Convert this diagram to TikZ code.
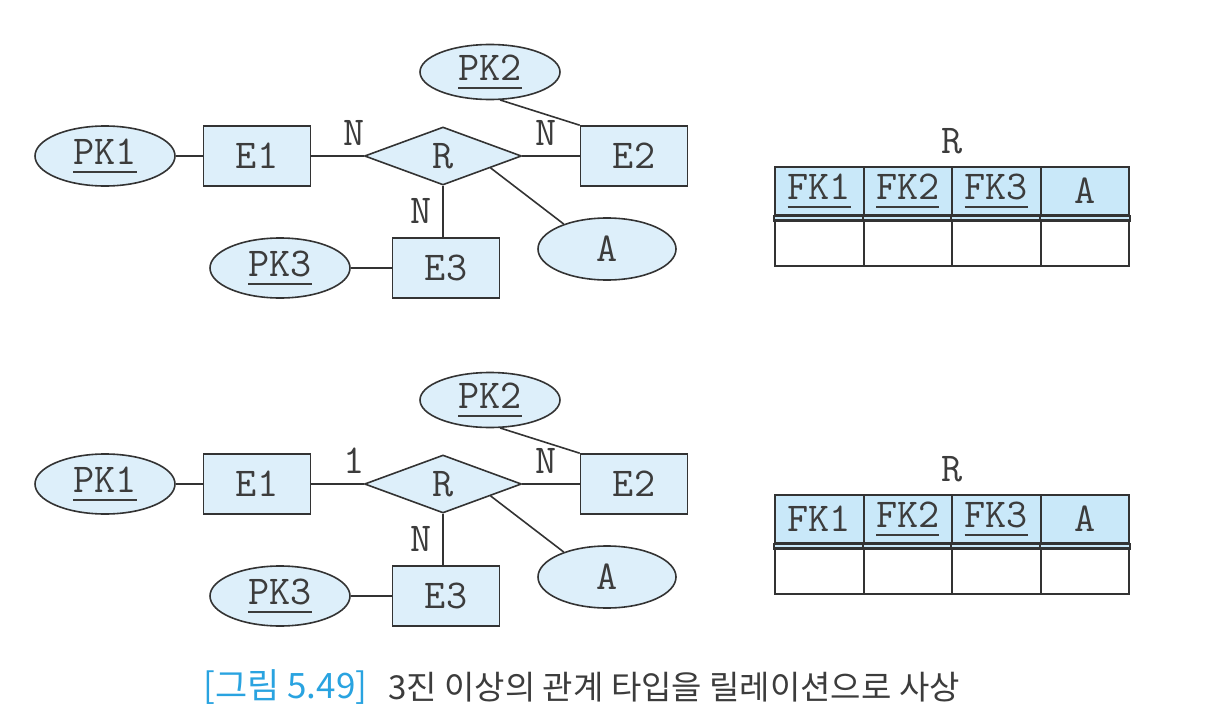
\documentclass[tikz,border=0pt]{standalone}
\usepackage{fontspec}
\usepackage{xcolor}
\usetikzlibrary{shapes.geometric,calc}
\newfontfamily\capfont{Noto Sans CJK KR}
\definecolor{erfill}{HTML}{DDEFFA}
\definecolor{keyblue}{HTML}{C9E8F9}
\definecolor{erline}{HTML}{333333}
\definecolor{ertext}{HTML}{3C3C3C}
\definecolor{capblue}{HTML}{29A3E0}
\newcommand\keyattr[1]{\setbox0\hbox{#1}\rlap{\rule[-4.5pt]{\wd0}{1pt}}\box0}
\tikzset{
  erfont/.style={font=\ttfamily\fontsize{20.5}{20.5}\selectfont,text=ertext},
  attr/.style={ellipse,draw=erline,fill=erfill,line width=0.8pt,minimum width=70pt,minimum height=30pt,inner sep=0pt,erfont},
  ent/.style={rectangle,draw=erline,fill=erfill,line width=0.8pt,minimum width=53.5pt,minimum height=30pt,inner sep=0pt,erfont},
  rel/.style={diamond,draw=erline,fill=erfill,line width=0.8pt,minimum width=78.5pt,minimum height=29pt,inner sep=0pt,erfont},
  card/.style={erfont,inner sep=0pt},
  link/.style={erline,line width=0.8pt},
  hcell/.style={rectangle,draw=erline,fill=keyblue,line width=1pt,minimum width=44.25pt,minimum height=24pt,inner sep=0pt,erfont},
  bcell/.style={rectangle,draw=erline,line width=1pt,minimum width=44.25pt,minimum height=23pt,inner sep=0pt},
}

\begin{document}
\begin{tikzpicture}[x=0.5pt,y=-0.5pt]
  \useasboundingbox (0,0) rectangle (1207,723);
  \foreach \d/\sy/\cone/\fkone in {a/0/N/\keyattr{FK1},b/328/1/FK1}{
    \begin{scope}[shift={(0,\sy)}]
      % ER diagram
      \node[attr] (pk1\d) at (105,156) {\keyattr{PK1}};
      \node[ent]  (e1\d)  at (257,156) {E1};
      \node[rel]  (r\d)   at (443,156) {R};
      \node[ent]  (e2\d)  at (634,156) {E2};
      \node[attr,minimum height=27.5pt] (pk2\d) at (490,72) {\keyattr{PK2}};
      \node[ent]  (e3\d)  at (446,268) {E3};
      \node[attr] (pk3\d) at (280,268) {\keyattr{PK3}};
      \node[attr,minimum width=69pt,minimum height=31pt] (a\d) at (607,249) {A};
      \draw[link] (pk1\d) -- (e1\d);
      \draw[link] (e1\d) -- (r\d);
      \draw[link] (r\d) -- (e2\d);
      \draw[link] (r\d.south) -- (r\d.south |- e3\d.north);
      \draw[link] (pk3\d) -- (e3\d);
      \draw[link] ($(r\d.east)!0.4!(r\d.south)$) -- (a\d.150);
      \draw[link] (pk2\d.-70) -- (e2\d.north west);
      \node[card] (c1\d) at (354,133) {\cone};
      \node[card] (c2\d) at (546,133) {N};
      \node[card] (c3\d) at (421,211) {N};
      % relation table
      \node[card] (tn\d) at (952,141) {R};
      \foreach \t [count=\i from 0] in {\fkone,\keyattr{FK2},\keyattr{FK3},A}
        \node[hcell] (th\d\i) at (819.25+88.5*\i,191) {\t};
      \draw[erline,line width=1pt,fill=keyblue] (th\d0.south west) rectangle ([yshift=-2.5pt]th\d3.south east);
      \foreach \i in {1,2,3}
        \draw[erline,line width=1pt] (th\d\i.south west) -- ([yshift=-2.5pt]th\d\i.south west);
      \foreach \i in {0,...,3}
        \node[bcell] (tb\d\i) at (819.25+88.5*\i,243) {};
    \end{scope}
  }
  % caption
  \node[anchor=west,inner sep=0pt,font=\capfont\fontsize{17.5}{18}\selectfont,text=capblue] (capnum) at (203,687) {[그림 5.49]};
  \node[anchor=west,inner sep=0pt,font=\capfont\fontsize{16.5}{17}\selectfont,text=ertext] (captext) at (388,687) {3진 이상의 관계 타입을 릴레이션으로 사상};
\end{tikzpicture}
\end{document}
